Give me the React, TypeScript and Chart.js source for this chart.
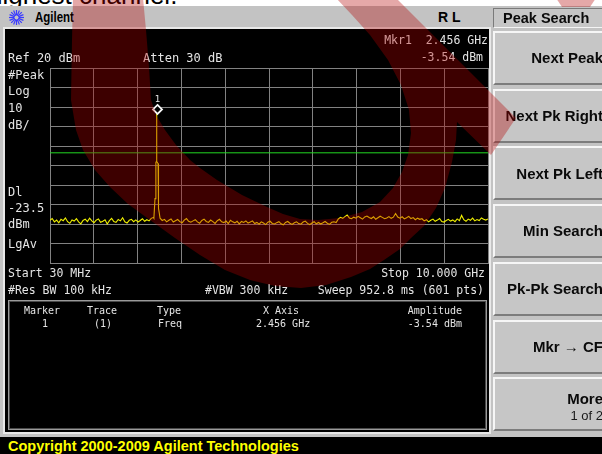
import React, { useEffect, useRef } from 'react';
import { Chart, registerables } from 'chart.js';

Chart.register(...registerables);

// ---------- data ----------
const sweepStartGHz = 0.03;
const sweepStopGHz = 10.0;
const refLevelDbm = 20;
const dbPerDiv = 10;
const divisions = 10;
const displayLineDbm = -23.5;
const markerFreqGHz = 2.456;
const markerDbm = -3.54;

// trace samples, evenly spaced across the sweep
const noiseDbm = [
  -58.1, -57.2, -58.9, -58.0, -59.4, -57.6, -58.3, -56.9, -58.8, -59.6,
  -57.9, -58.5, -57.3, -58.9, -59.9, -58.2, -57.5, -58.8, -57.0, -58.4,
  -59.3, -58.0, -57.4, -59.1, -58.6, -57.8, -60.0, -58.3, -57.1, -58.7,
  -59.2, -57.7, -58.4, -56.8, -58.9, -59.5, -58.1, -57.6, -58.8, -57.9,
  -59.0, -58.2, -57.3, -58.6, -57.8, -58.4, -57.1, -56.6,
  -55.0, -54.0,
  -57.0, -58.2, -57.6, -58.9, -58.1, -57.4, -59.0, -58.3, -57.7, -58.8,
  -59.4, -58.0, -57.2, -58.6, -59.1, -58.4, -57.8, -58.9, -59.6, -58.2,
  -57.5, -58.7, -59.2, -58.0, -58.8, -59.7, -58.3, -57.6, -58.9, -59.3,
  -58.5, -59.8, -58.1, -58.9, -59.4, -58.6, -59.9, -58.7, -59.2, -58.4,
  -59.5,
  -59.0, -58.4, -59.8, -59.2, -60.1, -58.9, -59.5, -60.3, -59.1, -58.6,
  -59.7, -60.0, -59.3, -58.8, -59.9, -60.4, -59.2, -58.7, -59.6, -60.2,
  -59.4, -58.9, -59.8, -60.1, -59.0, -58.5, -59.7, -60.3, -59.5, -58.8,
  -59.9, -59.2, -60.0, -59.4, -58.7, -59.6, -60.2, -59.1, -58.9, -59.3,
  -57.4, -56.6, -57.1, -56.2, -55.4, -56.9, -57.3, -56.5, -57.0, -56.1,
  -56.8, -57.5, -56.4, -55.9, -56.7, -57.2, -56.3, -57.6, -56.8, -56.0,
  -56.6, -57.3, -56.9, -56.2, -57.1, -56.5, -54.6, -56.4, -57.0, -56.3,
  -57.4, -56.8, -56.1, -57.2, -56.7, -57.8, -57.0, -57.6,
  -57.3, -58.4, -57.8, -58.9, -58.1, -57.5, -58.6, -58.0, -57.2, -58.7,
  -59.0, -58.2, -57.6, -58.5, -57.9, -58.8, -57.4, -58.3, -55.6, -57.8,
  -58.6, -57.5, -58.1, -57.0, -58.4, -57.7, -58.2, -56.9, -57.6, -58.0,
  -57.4,
];

// the carrier at the marker
const spikeFreqGHz = [2.395, 2.42, 2.432, 2.44, 2.45, 2.456, 2.462, 2.475, 2.49, 2.5, 2.515];
const spikeDbm = [-57.0, -47.0, -47.0, -28.5, -28.0, -3.54, -28.0, -28.5, -29.0, -52.0, -54.0];

const statusTop = [
  { text: 'Ref 20 dBm', x: 8, y: 62 },
  { text: 'Atten 30 dB', x: 143, y: 62 },
];
const leftLabels = [
  { text: '#Peak', y: 79 },
  { text: 'Log', y: 95 },
  { text: '10', y: 112 },
  { text: 'dB/', y: 129 },
  { text: 'Dl', y: 196 },
  { text: '-23.5', y: 212 },
  { text: 'dBm', y: 228 },
  { text: 'LgAv', y: 248 },
];
const softkeys = ['Next Peak', 'Next Pk Right', 'Next Pk Left', 'Min Search', 'Pk-Pk Search', 'Mkr \u2192 CF'];

// ---------- build ----------
const W = 602;
const H = 454;
const MONO = '"DejaVu Sans Mono", monospace';
const SANS = '"Liberation Sans", Arial, sans-serif';
const GRID = '#828282';

const sweepStep = (sweepStopGHz - sweepStartGHz) / (noiseDbm.length - 1);
const noisePts = noiseDbm
  .map((v, i) => ({ x: sweepStartGHz + i * sweepStep, y: v }))
  .filter((p) => p.x < spikeFreqGHz[0] || p.x > spikeFreqGHz[spikeFreqGHz.length - 1]);
const tracePts = [...noisePts, ...spikeFreqGHz.map((f, i) => ({ x: f, y: spikeDbm[i] }))].sort((a, b) => a.x - b.x);
const xGridTicks = Array.from({ length: divisions + 1 }, (_, k) => ({
  value: sweepStartGHz + (k * (sweepStopGHz - sweepStartGHz)) / divisions,
}));

const markerPlugin = {
  id: 'markerDiamond',
  afterDatasetsDraw(chart: any) {
    const { ctx, scales } = chart;
    const px = Math.round(scales.x.getPixelForValue(markerFreqGHz)) + 0.5;
    const py = scales.y.getPixelForValue(markerDbm);
    const cy = py - 4.5;
    const r = 4.5;
    ctx.save();
    ctx.beginPath();
    ctx.moveTo(px, cy - r);
    ctx.lineTo(px + r, cy);
    ctx.lineTo(px, cy + r);
    ctx.lineTo(px - r, cy);
    ctx.closePath();
    ctx.fillStyle = '#000';
    ctx.fill();
    ctx.strokeStyle = '#f8f8f8';
    ctx.lineWidth = 1.8;
    ctx.stroke();
    ctx.fillStyle = '#e8e8e8';
    ctx.font = `9px ${MONO}`;
    ctx.textAlign = 'center';
    ctx.textBaseline = 'alphabetic';
    ctx.fillText('1', px, cy - 7);
    ctx.restore();
  },
};

function Txt(props: any) {
  const { x, y, size, children, color = '#e4e4e4', font = MONO, weight = 400, right = false, scaleX } = props;
  const style: any = {
    position: 'absolute',
    top: y - 0.8465 * size,
    fontSize: size,
    lineHeight: `${size}px`,
    fontFamily: font,
    fontWeight: weight,
    color,
    whiteSpace: 'pre',
    margin: 0,
  };
  if (right) {
    style.right = W - x;
    style.textAlign = 'right';
  } else {
    style.left = x;
  }
  if (scaleX) {
    style.transform = `scaleX(${scaleX})`;
    style.transformOrigin = right ? 'right center' : 'left center';
  }
  return <div style={style}>{children}</div>;
}

// decorative watermark outline (pixels)
const wmMain: [number, number][] = [
  [73, -2], [72, 40], [71, 100], [76, 130], [83, 150], [95, 170], [110, 187], [128, 204], [150, 220],
  [175, 238], [200, 255], [225, 270], [250, 280], [275, 286], [301, 288], [326, 285], [351, 277],
  [370, 269], [384, 260], [400, 249], [411, 238], [424, 226], [436, 208], [445, 188], [452, 162],
  [456, 140], [457, 122], [491, 155], [516, 118], [396, -2], [336, -2], [352, 15], [370, 35], [388, 60],
  [401, 85], [409, 110], [411, 133], [408, 155], [402, 172], [393, 188], [380, 202], [362, 212],
  [340, 218], [318, 220], [300, 219], [283, 214], [267, 207], [242, 195], [217, 180], [200, 168],
  [190, 160], [176, 145], [165, 130], [156, 115], [151, 100], [149, 67], [146, 30], [143, -2],
];
const wmCorner: [number, number][] = [[556, -2], [596, -2], [590, 7], [562, 7]];
const toPath = (pts: [number, number][]) => 'M' + pts.map((p) => `${p[0]},${p[1]}`).join(' L') + ' Z';

export default function App() {
  const ref = useRef<HTMLCanvasElement>(null);

  useEffect(() => {
    const chart = new Chart(ref.current as HTMLCanvasElement, {
      type: 'line',
      data: {
        datasets: [
          {
            data: tracePts,
            borderColor: '#f0f000',
            borderWidth: 1.1,
            pointRadius: 0,
            tension: 0,
            order: 0,
          },
          {
            data: [
              { x: sweepStartGHz, y: displayLineDbm },
              { x: sweepStopGHz, y: displayLineDbm },
            ],
            borderColor: '#22d822',
            borderWidth: 1,
            pointRadius: 0,
            order: 1,
          },
        ],
      },
      options: {
        animation: false,
        responsive: false,
        maintainAspectRatio: false,
        devicePixelRatio: 1,
        events: [],
        layout: { padding: { left: 50, top: 68, right: W - 488, bottom: H - 263 } },
        plugins: { legend: { display: false }, tooltip: { enabled: false } },
        scales: {
          x: {
            type: 'linear',
            min: sweepStartGHz,
            max: sweepStopGHz,
            ticks: { display: false },
            grid: { color: GRID, lineWidth: 1, drawTicks: false },
            border: { color: GRID, width: 1 },
            afterBuildTicks: (s: any) => {
              s.ticks = xGridTicks.map((t) => ({ value: t.value }));
            },
          },
          y: {
            type: 'linear',
            min: refLevelDbm - divisions * dbPerDiv,
            max: refLevelDbm,
            ticks: { display: false, stepSize: dbPerDiv },
            grid: { color: GRID, lineWidth: 1, drawTicks: false },
            border: { color: GRID, width: 1 },
          },
        },
      } as any,
      plugins: [markerPlugin],
    });
    return () => chart.destroy();
  }, []);

  const keyTop = (k: number) => 31 + k * 57.7;

  return (
    <div style={{ position: 'fixed', left: 0, top: 0, width: W, height: H, overflow: 'hidden', background: '#fff' }}>
      {/* page text above the screenshot */}
      <Txt x={-12} y={3.5} size={26} font={SANS} color="#000">highest channel.</Txt>

      {/* instrument frame */}
      <div style={{ position: 'absolute', left: 0, top: 6, width: W, height: 431, background: '#c3c3c3' }} />
      <div style={{ position: 'absolute', left: 3, top: 27, width: 488, height: 407, background: '#e8e8e8' }} />
      <div style={{ position: 'absolute', left: 5, top: 29, width: 484, height: 403, background: '#000' }} />

      {/* header */}
      <svg style={{ position: 'absolute', left: 8, top: 9 }} width={17} height={17} viewBox="0 0 17 17">
        {[0, 22.5, 45, 67.5, 90, 112.5, 135, 157.5].map((a) => {
          const r = (a * Math.PI) / 180;
          return (
            <line key={a} x1={8.5 - 7.5 * Math.cos(r)} y1={8.5 - 7.5 * Math.sin(r)} x2={8.5 + 7.5 * Math.cos(r)} y2={8.5 + 7.5 * Math.sin(r)} stroke="#3b3bff" strokeWidth={1.2} />
          );
        })}
        <circle cx={8.5} cy={8.5} r={2.5} fill="#c3c3c3" stroke="#3b3bff" strokeWidth={1} />
      </svg>
      <Txt x={35} y={22} size={14} font={SANS} weight={700} color="#000" scaleX={0.82}>Agilent</Txt>
      <Txt x={438} y={22} size={14} font={SANS} weight={700} color="#000">R L</Txt>

      {/* chart */}
      <canvas ref={ref} width={W} height={H} style={{ position: 'absolute', left: 0, top: 0, width: W, height: H }} />

      {/* screen annotations */}
      {statusTop.map((s) => (
        <Txt key={s.text} x={s.x} y={s.y} size={12}>{s.text}</Txt>
      ))}
      <Txt x={488} y={45} size={11.5} right>{'Mkr1  2.456 GHz'}</Txt>
      <Txt x={483} y={62} size={11.5} right>-3.54 dBm</Txt>
      {leftLabels.map((l) => (
        <Txt key={l.text} x={8} y={l.y} size={12}>{l.text}</Txt>
      ))}
      <Txt x={8} y={278} size={11.5}>Start 30 MHz</Txt>
      <Txt x={485} y={278} size={11.5} right>Stop 10.000 GHz</Txt>
      <Txt x={8} y={295} size={11.5}>#Res BW 100 kHz</Txt>
      <Txt x={205} y={295} size={11.5}>#VBW 300 kHz</Txt>
      <Txt x={484} y={295} size={11.5} right>Sweep 952.8 ms (601 pts)</Txt>

      {/* marker table */}
      <div
        style={{
          position: 'absolute', left: 8, top: 300, width: 477, height: 128,
          border: '1px solid #9a9a9a', boxShadow: 'inset 0 0 0 1px #4a4a4a',
        }}
      />
      <Txt x={24} y={314} size={10}>Marker</Txt>
      <Txt x={87} y={314} size={10}>Trace</Txt>
      <Txt x={157} y={314} size={10}>Type</Txt>
      <Txt x={263} y={314} size={10}>X Axis</Txt>
      <Txt x={462} y={314} size={10} right>Amplitude</Txt>
      <Txt x={42} y={327} size={10}>1</Txt>
      <Txt x={94} y={327} size={10}>(1)</Txt>
      <Txt x={158} y={327} size={10}>Freq</Txt>
      <Txt x={256} y={327} size={10}>2.456 GHz</Txt>
      <Txt x={462} y={327} size={10} right>-3.54 dBm</Txt>

      {/* softkey panel */}
      <div
        style={{
          position: 'absolute', left: 493, top: 8, width: 115, height: 18, background: '#c6c6c6',
          borderTop: '1px solid #7a7a7a', borderLeft: '1px solid #7a7a7a', borderBottom: '1px solid #f4f4f4',
        }}
      />
      <Txt x={548} y={23} size={14.5} font={SANS} weight={700} color="#0a0a0a" right={false}>
        <span style={{ position: 'relative', left: -45 }}>Peak Search</span>
      </Txt>
      {softkeys.map((k, i) => (
        <div
          key={k}
          style={{
            position: 'absolute', left: 493, top: keyTop(i), width: 113, height: 54, boxSizing: 'border-box',
            background: '#c6c6c6', borderTop: '2px solid #f6f6f6', borderLeft: '2px solid #f6f6f6',
            borderBottom: '2px solid #7c7c7c',
          }}
        />
      ))}
      {softkeys.map((k, i) => (
        <Txt key={'t' + k} x={603} y={keyTop(i) + 32} size={15} font={SANS} weight={700} color="#0a0a0a" right>
          {k}
        </Txt>
      ))}
      <div
        style={{
          position: 'absolute', left: 493, top: keyTop(6), width: 113, height: 54, boxSizing: 'border-box',
          background: '#c6c6c6', borderTop: '2px solid #f6f6f6', borderLeft: '2px solid #f6f6f6',
          borderBottom: '2px solid #7c7c7c',
        }}
      />
      <Txt x={603} y={404} size={15} font={SANS} weight={700} color="#0a0a0a" right>More</Txt>
      <Txt x={603} y={420} size={13} font={SANS} color="#1a1a1a" right>1 of 2</Txt>

      {/* bottom bar */}
      <div style={{ position: 'absolute', left: 0, top: 437, width: W, height: H - 437, background: '#000' }} />
      <Txt x={8} y={451} size={14.5} font={SANS} weight={700} color="#ffff00">Copyright 2000-2009 Agilent Technologies</Txt>

      {/* watermark */}
      <svg style={{ position: 'absolute', left: 0, top: 0, pointerEvents: 'none' }} width={W} height={H}>
        <path d={toPath(wmMain)} fill="rgba(180,0,0,0.34)" />
        <path d={toPath(wmCorner)} fill="rgba(180,0,0,0.34)" />
      </svg>
    </div>
  );
}
